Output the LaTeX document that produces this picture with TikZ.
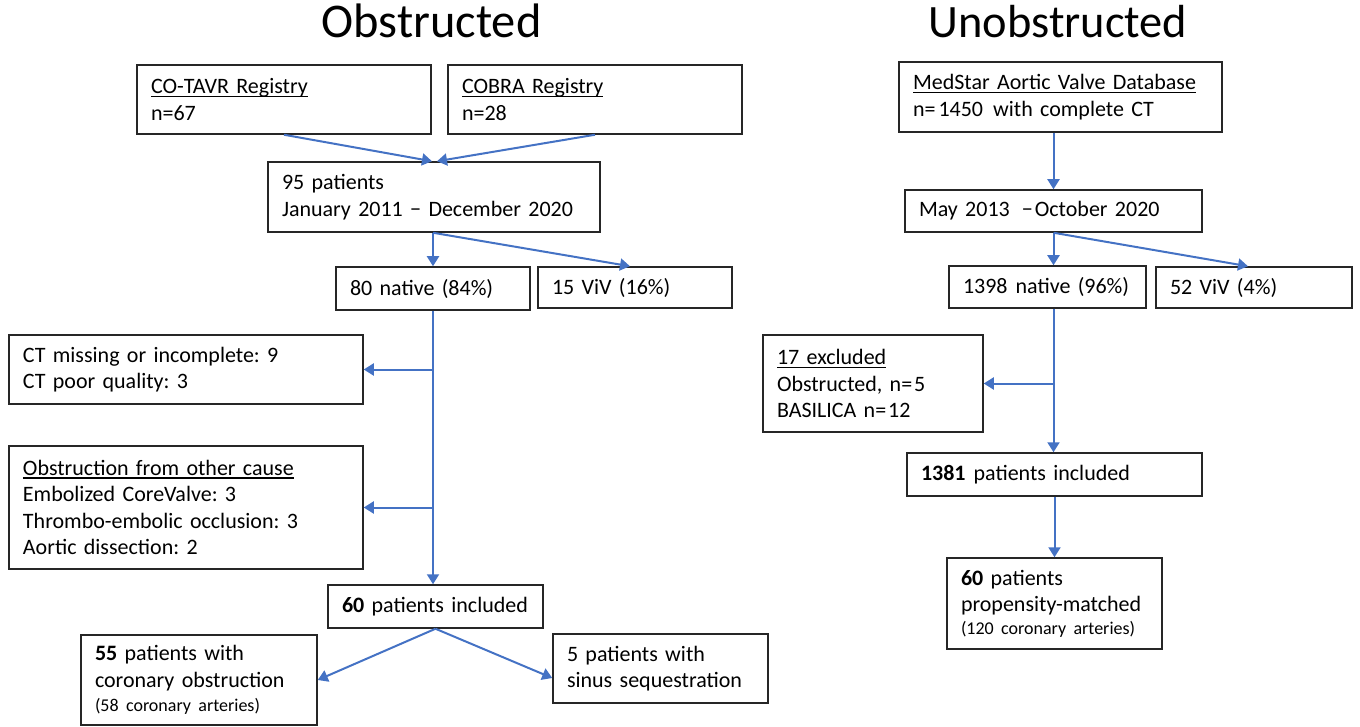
\documentclass[tikz,border=0pt]{standalone}
\usepackage{fontspec}
\setmainfont{Carlito}[WordSpace=0.8]
\usetikzlibrary{arrows.meta}
\definecolor{arrblue}{HTML}{4472C4}
\definecolor{boxline}{HTML}{262626}
\hyphenpenalty=10000
\exhyphenpenalty=10000
\frenchspacing
\newcommand\ulx[1]{\setbox0\hbox{#1}\rlap{\rule[-1.6pt]{\wd0}{0.6pt}}\box0}
\newcommand\smalltxt{\fontsize{9}{11}\selectfont}
\begin{document}
\begin{tikzpicture}[x=0.5pt,y=-0.5pt,
  box/.style={draw=boxline, line width=0.75pt, align=left, inner xsep=7pt, inner ysep=0pt,
    font=\fontsize{11}{13.2}\selectfont},
  arr/.style={draw=arrblue, line width=1pt, -{Triangle[width=6pt,length=5pt]}},
  ttl/.style={anchor=base, inner sep=0pt}]
\useasboundingbox (0,0) rectangle (1360,727);

% titles
\node[ttl, font=\fontsize{24.2}{29}\selectfont] (t1) at (431.5,38) {Obstructed};
\node[ttl, font=\fontsize{23.2}{28}\selectfont] (t2) at (1058,38) {Unobstructed};

% left column
\node[box, text width=133pt, minimum height=34.5pt] (cotavr) at (284,99.5) {\ulx{CO-TAVR Registry}\\n=67};
\node[box, text width=133pt, minimum height=34.5pt] (cobra) at (595,99.5) {\ulx{COBRA Registry}\\n=28};
\node[box, text width=152pt, minimum height=35pt] (p95) at (434,197) {95 patients\\\mbox{January 2011 − December 2020}};
\node[box, text width=83pt, minimum height=21.5pt] (native80) at (433,288.5) {\mbox{80 native (84\%)}};
\node[box, text width=83pt, minimum height=20.5pt] (viv15) at (635,287.5) {\mbox{15 ViV (16\%)}};
\node[box, text width=163pt, minimum height=34.5pt] (ctmiss) at (186,369.5) {CT missing or incomplete: 9\\CT poor quality: 3};
\node[box, text width=163pt, minimum height=61.5pt] (obstr) at (186,507.5) {\ulx{Obstruction from other cause}\\Embolized CoreValve: 3\\Thrombo-embolic occlusion: 3\\Aortic dissection: 2};
\node[box, text width=93.5pt, minimum height=21.5pt] (p60) at (435.5,606.5) {\mbox{\textbf{60} patients included}};
\node[box, text width=104pt, minimum height=45pt] (p55) at (199,680) {\textbf{55} patients with\\\mbox{coronary obstruction}\\[-1pt]{\smalltxt (58 coronary arteries)}};
\node[box, text width=93.5pt, minimum height=34.5pt] (p5) at (660.5,668.5) {5 patients with\\\mbox{sinus sequestration}};

% right column
\node[box, text width=147.5pt, minimum height=35pt] (medstar) at (1060.5,97) {\mbox{\ulx{MedStar Aortic Valve Database}}\\n=\hspace{1.5pt}1450\hspace{5pt}with complete CT};
\node[box, text width=134.5pt, minimum height=21pt] (may) at (1053.5,211) {\mbox{May 2013\hspace{6pt}−\hspace{1pt}October 2020}};
\node[box, text width=84.5pt, minimum height=21pt] (native1398) at (1047.5,287) {\mbox{1398\hspace{4pt}native (96\%)}};
\node[box, text width=84pt, minimum height=20.5pt] (viv52) at (1254,287.5) {\mbox{52 ViV (4\%)}};
\node[box, text width=96pt, minimum height=48.5pt] (excl17) at (873,383.5) {\ulx{17 excluded}\\Obstructed, n=\hspace{1pt}5\\BASILICA n=\hspace{1pt}12};
\node[box, text width=133.5pt, minimum height=21.5pt] (p1381) at (1054.5,474.5) {\mbox{\textbf{1381}\hspace{4pt}patients included}};
\node[box, text width=93.5pt, minimum height=45.5pt] (p60m) at (1054.5,603.5) {\textbf{60} patients\\\mbox{propensity-matched}\\[-2pt]{\smalltxt (120 coronary arteries)}};

% connectors left
\draw[arr] (cotavr.south) -- ([xshift=-1pt]p95.north);
\draw[arr] (cobra.south) -- ([xshift=1.5pt]p95.north);
\draw[arr] (native80.north |- p95.south) -- (native80.north);
\draw[arr] (native80.north |- p95.south) -- ([xshift=-2.5pt]viv15.north);
\draw[arr] (native80.south) -- (native80.south |- p60.north);
\draw[arr] (native80.south |- ctmiss.east) -- (ctmiss.east);
\draw[arr] (native80.south |- obstr.east) -- (obstr.east);
\draw[arr] (p60.south) -- (p55.east);
\draw[arr] (p60.south) -- ([yshift=-4.75pt]p5.west);

% connectors right
\draw[arr] (may.north |- medstar.south) -- (may.north);
\draw[arr] (may.south) -- (may.south |- native1398.north);
\draw[arr] (may.south) -- ([xshift=-3pt]viv52.north);
\draw[arr] (may.south |- native1398.south) -- (may.south |- p1381.north);
\draw[arr] (may.south |- excl17.east) -- (excl17.east);
\draw[arr] (p1381.south) -- (p60m.north);
\end{tikzpicture}
\end{document}
